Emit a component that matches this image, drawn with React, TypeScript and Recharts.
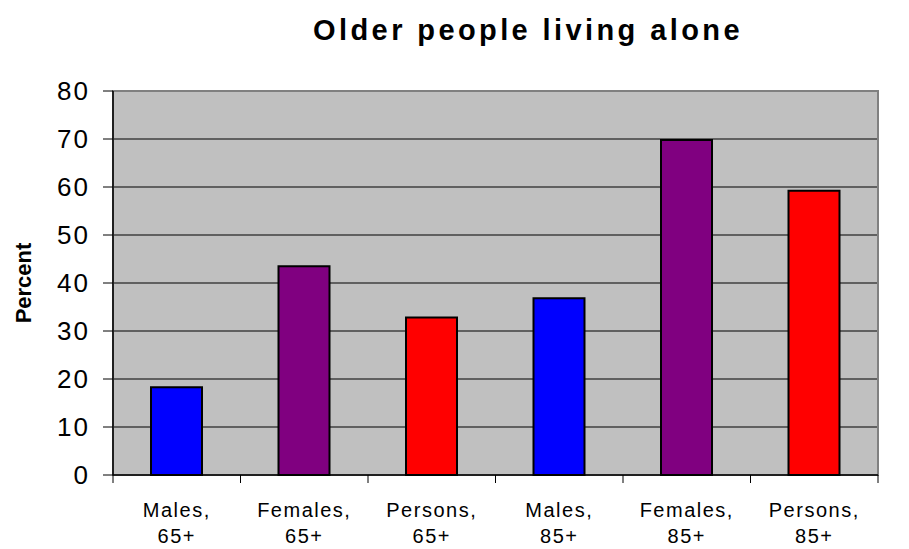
import React from "react";
import {
  BarChart,
  Bar,
  XAxis,
  YAxis,
  CartesianGrid,
  Cell,
  ReferenceArea,
  Label
} from "recharts";

const groups = ["Males,", "Females,", "Persons,", "Males,", "Females,", "Persons,"];
const ages = ["65+", "65+", "65+", "85+", "85+", "85+"];
const percent = [18.3, 43.5, 32.8, 36.8, 69.8, 59.2];
const barColors = ["#0000FF", "#800080", "#FF0000", "#0000FF", "#800080", "#FF0000"];
const yTicks = [0, 10, 20, 30, 40, 50, 60, 70, 80];

const data = percent.map((v, i) => ({ key: i, group: groups[i], age: ages[i], value: v }));

const FONT = "Liberation Sans, Arial, sans-serif";
const W = 909;
const H = 549;
const xAxisHeight = 74;
const margin = { top: 91, right: 31, bottom: 0, left: 0 };
const yAxisWidth = 113;
const band = (W - margin.left - yAxisWidth - margin.right) / data.length;

function CategoryTick(props: any) {
  const { x, y, payload, index } = props;
  const half = band / 2;
  return (
    <g>
      <line x1={x - half} x2={x - half} y1={y - 8} y2={y} stroke="#000" strokeWidth={1} />
      {index === data.length - 1 && (
        <line x1={x + half} x2={x + half} y1={y - 8} y2={y} stroke="#000" strokeWidth={1} />
      )}
      <text x={x} y={y + 34} textAnchor="middle" fontSize={20} letterSpacing={1.5} fontFamily={FONT} fill="#000">
        {groups[payload.value]}
      </text>
      <text x={x} y={y + 60} textAnchor="middle" fontSize={20} letterSpacing={1.5} fontFamily={FONT} fill="#000">
        {ages[payload.value]}
      </text>
    </g>
  );
}

export default function App() {
  return (
    <div style={{ position: "absolute", left: 0, top: 0, width: W, height: H, background: "#fff", overflow: "hidden" }}>
      <div
        style={{
          position: "absolute",
          top: 13,
          left: 146,
          width: W + 1 - 146,
          textAlign: "center",
          fontFamily: FONT,
          fontWeight: "bold",
          fontSize: 29,
          letterSpacing: 3.4,
          lineHeight: "34px"
        }}
      >
        Older people living alone
      </div>
      <BarChart width={W} height={H} data={data} margin={margin}>
        <CartesianGrid
          vertical={false}
          fill="#C0C0C0"
          fillOpacity={1}
          stroke="#000"
          strokeWidth={1.2}
        />
        <ReferenceArea y1={0} y2={80} fill="none" stroke="#808080" strokeWidth={2} ifOverflow="visible" />
        <XAxis
          dataKey="key"
          tickLine={false}
          tickSize={8}
          tickMargin={0}
          tick={<CategoryTick />}
          axisLine={{ stroke: "#000", strokeWidth: 1.5 }}
          interval={0}
          height={xAxisHeight}
        />
        <YAxis
          width={yAxisWidth}
          domain={[0, 80]}
          ticks={yTicks}
          interval={0}
          tickSize={10}
          tickMargin={13}
          tickLine={{ stroke: "#000" }}
          axisLine={{ stroke: "#000", strokeWidth: 1.5 }}
          tick={{ fontSize: 26, fill: "#000", fontFamily: FONT, letterSpacing: 2 }}
        >
          <Label
            value="Percent"
            angle={-90}
            position="insideLeft"
            offset={23}
            style={{
              fontSize: 22,
              fontWeight: "bold",
              fill: "#000",
              fontFamily: FONT,
              textAnchor: "middle"
            }}
          />
        </YAxis>
        <Bar dataKey="value" isAnimationActive={false} stroke="#000" strokeWidth={2} barSize={51}>
          {data.map((d, i) => (
            <Cell key={d.key} fill={barColors[i]} />
          ))}
        </Bar>
      </BarChart>
    </div>
  );
}
